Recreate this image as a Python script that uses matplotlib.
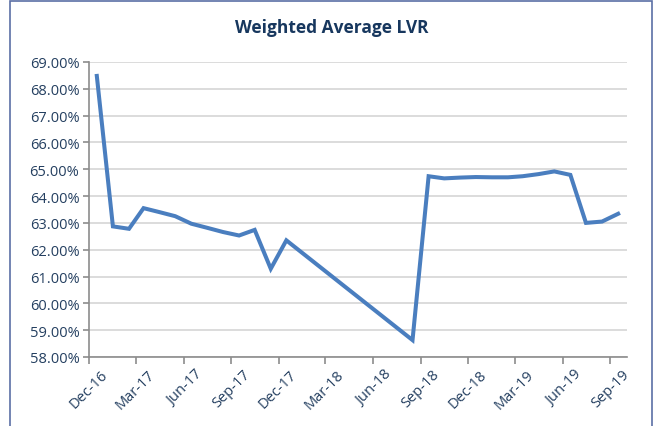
import matplotlib
matplotlib.use('Agg')
import matplotlib.pyplot as plt
import matplotlib.dates as mdates
import matplotlib.transforms as mtransforms
from matplotlib.patches import Rectangle
from matplotlib.ticker import FuncFormatter, MultipleLocator
import pandas as pd

months = ['2016-12', '2017-01', '2017-02', '2017-03', '2017-04', '2017-05',
          '2017-06', '2017-07', '2017-08', '2017-09', '2017-10', '2017-11',
          '2017-12', '2018-08', '2018-09', '2018-10', '2018-11', '2018-12',
          '2019-01', '2019-02', '2019-03', '2019-04', '2019-05', '2019-06',
          '2019-07', '2019-08', '2019-09']
lvr = [68.48, 62.87, 62.78, 63.55, 63.40, 63.25,
       62.97, 62.82, 62.66, 62.53, 62.74, 61.29,
       62.35, 58.63, 64.74, 64.66, 64.69, 64.71,
       64.70, 64.70, 64.74, 64.82, 64.92, 64.79,
       63.00, 63.05, 63.34]

title = 'Weighted Average LVR'
navy = '#17375E'
text_col = '#243F60'
line_col = '#4A7EBF'

plt.rcParams['font.family'] = ['Open Sans', 'DejaVu Sans']

# plot each month in the middle of its month band
x = pd.to_datetime(months) + pd.Timedelta(days=15)

fig = plt.figure(figsize=(6.57, 4.27), dpi=100)
ax = fig.add_axes([0.1355, 0.1616, 0.8188, 0.6909])

ax.plot(x, lvr, color=line_col, linewidth=2.9, solid_joinstyle='miter')

ax.set_ylim(58, 69)
ax.yaxis.set_major_locator(MultipleLocator(1))
ax.yaxis.set_major_formatter(FuncFormatter(lambda v, p: f'{v:.2f}%'))
ax.set_xlim(pd.Timestamp('2016-12-01'), pd.Timestamp('2019-10-03'))
ax.xaxis.set_major_locator(mdates.MonthLocator(bymonth=[3, 6, 9, 12]))
ax.xaxis.set_major_formatter(mdates.DateFormatter('%b-%y'))

ax.grid(axis='y', color='#D9D9D9', linewidth=1.3)
ax.set_axisbelow(True)
for s in ['top', 'right']:
    ax.spines[s].set_visible(False)
for s in ['left', 'bottom']:
    ax.spines[s].set_color('#8C8C8C')
    ax.spines[s].set_linewidth(1.2)

ax.tick_params(axis='y', colors='#8C8C8C', labelcolor=text_col, labelsize=10.5,
               length=4, width=1.2, pad=3)
ax.tick_params(axis='x', colors='#8C8C8C', labelcolor=text_col, labelsize=10.5,
               length=5, width=1.2, pad=2)
offset = mtransforms.ScaledTranslation(8 / 72, 0, fig.dpi_scale_trans)
for lab in ax.get_xticklabels():
    lab.set_rotation(45)
    lab.set_ha('right')
    lab.set_va('top')
    lab.set_rotation_mode('anchor')
    lab.set_transform(lab.get_transform() + offset)

fig.text(0.505, 0.934, title, ha='center', va='center', fontsize=12.5,
         fontweight='bold', color=navy)

fig.patches.append(Rectangle((10 / 657, -0.05), 642 / 657, 1.045,
                             transform=fig.transFigure, fill=False,
                             edgecolor='#5B6FA5', linewidth=1.2))

fig.savefig('out.png', dpi=100)
